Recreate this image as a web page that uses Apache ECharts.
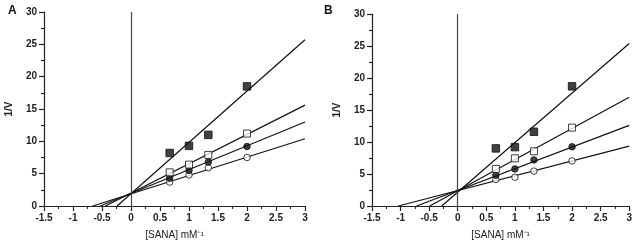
<!DOCTYPE html>
<html>
<head>
<meta charset="utf-8">
<script src="https://cdn.jsdelivr.net/npm/echarts@6/dist/echarts.min.js"></script>
<style>
  html, body { margin: 0; padding: 0; background: #fff; }
  #chart { width: 635px; height: 245px; }
</style>
</head>
<body>
<div id="chart"></div>
<script>
// x values of the measured points ([SANA] mM-1)
const xs = [0.667, 1, 1.333, 2]

// panel A: 1/V values
const aOpenCircle = [3.7, 4.8, 5.9, 7.5]
const aFilledCircle = [4.3, 5.5, 6.8, 9.2]
const aOpenSquare = [5.2, 6.4, 7.9, 11.2]
const aFilledSquare = [8.2, 9.3, 11.0, 18.5]
// fitted lines, [x-intercept, 1/V at x=3]
const aLines = [[-0.66, 10.4], [-0.53, 13.0], [-0.44, 15.6], [-0.24, 25.7]]

// panel B
const bOpenCircle = [4.15, 4.5, 5.45, 7.05]
const bFilledCircle = [4.8, 5.8, 7.2, 9.25]
const bOpenSquare = [5.8, 7.45, 8.55, 12.25]
const bFilledSquare = [9.0, 9.2, 11.6, 18.7]
const bLines = [[-1.04, 9.35], [-0.72, 12.6], [-0.49, 17.0], [-0.28, 25.4]]

const xTicks = [-1.5, 3, 0.5] // min, max, step
const yTicks = [0, 30, 5]

const font = 'Liberation Sans, Arial, sans-serif'

function pts(vals) {
  return xs.map((x, i) => [x, vals[i]])
}

function xAxis(gridIndex) {
  return {
    type: 'value', gridIndex,
    min: xTicks[0], max: xTicks[1], interval: xTicks[2],
    name: '[SANA] mM\u207B\u00B9', nameLocation: 'middle', nameGap: 24,
    nameTextStyle: { fontFamily: font, fontSize: 10, color: '#222' },
    axisLine: { onZero: false, lineStyle: { color: '#222', width: 1.2 } },
    axisTick: { length: 5, lineStyle: { color: '#222', width: 1.2 } },
    minorTick: { show: true, splitNumber: 2, length: 3, lineStyle: { color: '#222', width: 1.2 } },
    splitLine: { show: false },
    axisLabel: { fontFamily: font, fontSize: 10, fontWeight: 'bold', color: '#222', margin: 7 }
  }
}

function yAxis(gridIndex) {
  return {
    type: 'value', gridIndex,
    min: yTicks[0], max: yTicks[1], interval: yTicks[2],
    name: '1/V', nameLocation: 'middle', nameGap: 30, nameRotate: 90,
    nameTextStyle: { fontFamily: font, fontSize: 10, fontWeight: 'bold', color: '#222' },
    axisLine: { show: true, onZero: false, lineStyle: { color: '#222', width: 1.2 } },
    axisTick: { show: true, length: 5, lineStyle: { color: '#222', width: 1.2 } },
    minorTick: { show: true, splitNumber: 2, length: 3, lineStyle: { color: '#222', width: 1.2 } },
    splitLine: { show: false },
    axisLabel: { fontFamily: font, fontSize: 10, fontWeight: 'bold', color: '#222', margin: 7 }
  }
}

function panelSeries(idx, lines, groups) {
  const out = []
  lines.forEach((l, i) => {
    out.push({
      type: 'line', xAxisIndex: idx, yAxisIndex: idx,
      data: [[l[0], 0], [xTicks[1], l[1]]],
      symbol: 'none', silent: true, z: 2,
      lineStyle: { color: '#111', width: 1.2 },
      markLine: i === 0 ? {
        symbol: 'none', silent: true, label: { show: false },
        lineStyle: { color: '#444', width: 1.2, type: 'solid' },
        data: [{ xAxis: 0 }]
      } : undefined
    })
  })
  groups.forEach(g => {
    out.push({
      type: 'scatter', xAxisIndex: idx, yAxisIndex: idx,
      data: pts(g.vals), symbol: g.symbol, symbolSize: g.size, z: 5,
      itemStyle: { color: g.fill, borderColor: '#111', borderWidth: 1 }
    })
  })
  return out
}

function groups(oc, fc, os, fs) {
  return [
    { vals: oc, symbol: 'circle', size: 6.5, fill: '#fff' },
    { vals: fc, symbol: 'circle', size: 6.5, fill: '#111' },
    { vals: os, symbol: 'rect', size: 7, fill: '#fff' },
    { vals: fs, symbol: 'rect', size: 7.5, fill: '#111' }
  ]
}

const chart = echarts.init(document.getElementById('chart'))
chart.setOption({
  animation: false,
  title: [
    { text: 'A', left: 3, top: 0, textStyle: { fontFamily: font, fontSize: 12, fontWeight: 'bold', color: '#111' } },
    { text: 'B', left: 319, top: 0, textStyle: { fontFamily: font, fontSize: 12, fontWeight: 'bold', color: '#111' } }
  ],
  grid: [
    { left: 44, right: 330, top: 12, bottom: 39 },
    { left: 372, right: 4, top: 14, bottom: 38 }
  ],
  xAxis: [xAxis(0), xAxis(1)],
  yAxis: [yAxis(0), yAxis(1)],
  series: [
    ...panelSeries(0, aLines, groups(aOpenCircle, aFilledCircle, aOpenSquare, aFilledSquare)),
    ...panelSeries(1, bLines, groups(bOpenCircle, bFilledCircle, bOpenSquare, bFilledSquare))
  ]
})
</script>
</body>
</html>
